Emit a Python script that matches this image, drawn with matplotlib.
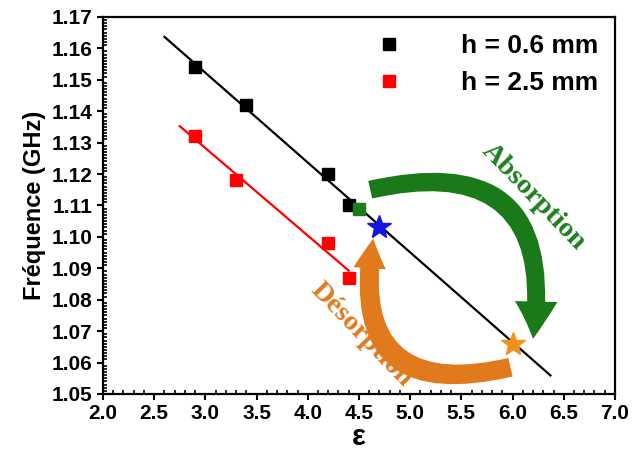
import numpy as np
import matplotlib
matplotlib.use("Agg")
import matplotlib.pyplot as plt
from matplotlib.patches import FancyArrowPatch
from matplotlib.ticker import MultipleLocator

plt.rcParams["font.family"] = ["Liberation Sans", "DejaVu Sans"]
plt.rcParams["font.weight"] = "bold"

# data
eps_06 = [2.9, 3.4, 4.2, 4.4]
freq_06 = [1.154, 1.142, 1.120, 1.110]
eps_25 = [2.9, 3.3, 4.2, 4.4]
freq_25 = [1.132, 1.118, 1.098, 1.087]
fit_range_06 = [2.6, 6.37]
fit_range_25 = [2.75, 4.4]
green_pt = (4.5, 1.109)
blue_star = (4.7, 1.103)
orange_star = (6.0, 1.066)
absorb_arrow = [(4.61, 1.115), (6.20, 1.0675)]
desorb_arrow = [(5.98, 1.0585), (4.64, 1.0995)]

fig, ax = plt.subplots(figsize=(6.32, 4.57), dpi=100)
fig.subplots_adjust(left=0.163, right=0.973, bottom=0.138, top=0.963)

# linear fits
for xs, ys, rng, col in [(eps_06, freq_06, fit_range_06, "black"),
                         (eps_25, freq_25, fit_range_25, "red")]:
    p = np.polyfit(xs, ys, 1)
    xx = np.array(rng)
    ax.plot(xx, np.polyval(p, xx), color=col, lw=1.6, zorder=2)

ax.plot(eps_06, freq_06, "s", color="black", ms=8, zorder=3, label="h = 0.6 mm")
ax.plot(eps_25, freq_25, "s", color="red", ms=8, zorder=3, label="h = 2.5 mm")
ax.plot(*green_pt, "s", color="#1c7d1c", ms=8, zorder=3)

# curved arrows
green_arrow = FancyArrowPatch(absorb_arrow[0], absorb_arrow[1],
                              connectionstyle="arc3,rad=-0.72",
                              arrowstyle="simple,head_length=0.75,head_width=0.85,tail_width=0.36",
                              mutation_scale=36, color="#1a7a1a", lw=0,
                              shrinkA=0, shrinkB=0, zorder=4)
ax.add_patch(green_arrow)
orange_arrow = FancyArrowPatch(desorb_arrow[0], desorb_arrow[1],
                               connectionstyle="arc3,rad=-0.75",
                               arrowstyle="simple,head_length=0.6,head_width=0.65,tail_width=0.38",
                               mutation_scale=36, color="#e17a1c", lw=0,
                               shrinkA=0, shrinkB=0, zorder=4)
ax.add_patch(orange_arrow)

ax.plot(*blue_star, "*", color="#1414e6", ms=18, zorder=5)
ax.plot(*orange_star, "*", color="#f2901e", ms=18, zorder=5)

ax.text(6.21, 1.1127, "Absorption", color="#1d801d", rotation=-46,
        ha="center", va="center", fontsize=20.5, fontweight="bold",
        family=["Liberation Serif", "DejaVu Serif"])
ax.text(4.52, 1.0687, "Désorption", color="#e07a1e", rotation=-46,
        ha="center", va="center", fontsize=20.5, fontweight="bold",
        family=["Liberation Serif", "DejaVu Serif"])

ax.set_xlim(2.0, 7.0)
ax.set_ylim(1.05, 1.17)
ax.xaxis.set_major_locator(MultipleLocator(0.5))
ax.xaxis.set_minor_locator(MultipleLocator(0.1))
ax.yaxis.set_major_locator(MultipleLocator(0.01))
ax.yaxis.set_minor_locator(MultipleLocator(0.001))
ax.xaxis.set_major_formatter(matplotlib.ticker.FormatStrFormatter("%.1f"))
ax.yaxis.set_major_formatter(matplotlib.ticker.FormatStrFormatter("%.2f"))
ax.tick_params(which="major", direction="out", length=4, width=1.5, labelsize=15)
ax.tick_params(which="minor", direction="in", length=3, width=1.2)
for s in ax.spines.values():
    s.set_linewidth(1.6)

ax.set_xlabel("ε", fontsize=21, fontweight="bold", labelpad=0)
ax.set_ylabel("Fréquence (GHz)", fontsize=17, fontweight="bold", labelpad=4)

leg = ax.legend(loc="upper right", frameon=False, handlelength=1.0,
                handletextpad=2.2, labelspacing=0.5, borderaxespad=0.25,
                prop={"weight": "bold", "size": 19})

fig.savefig("out.png", dpi=100)
